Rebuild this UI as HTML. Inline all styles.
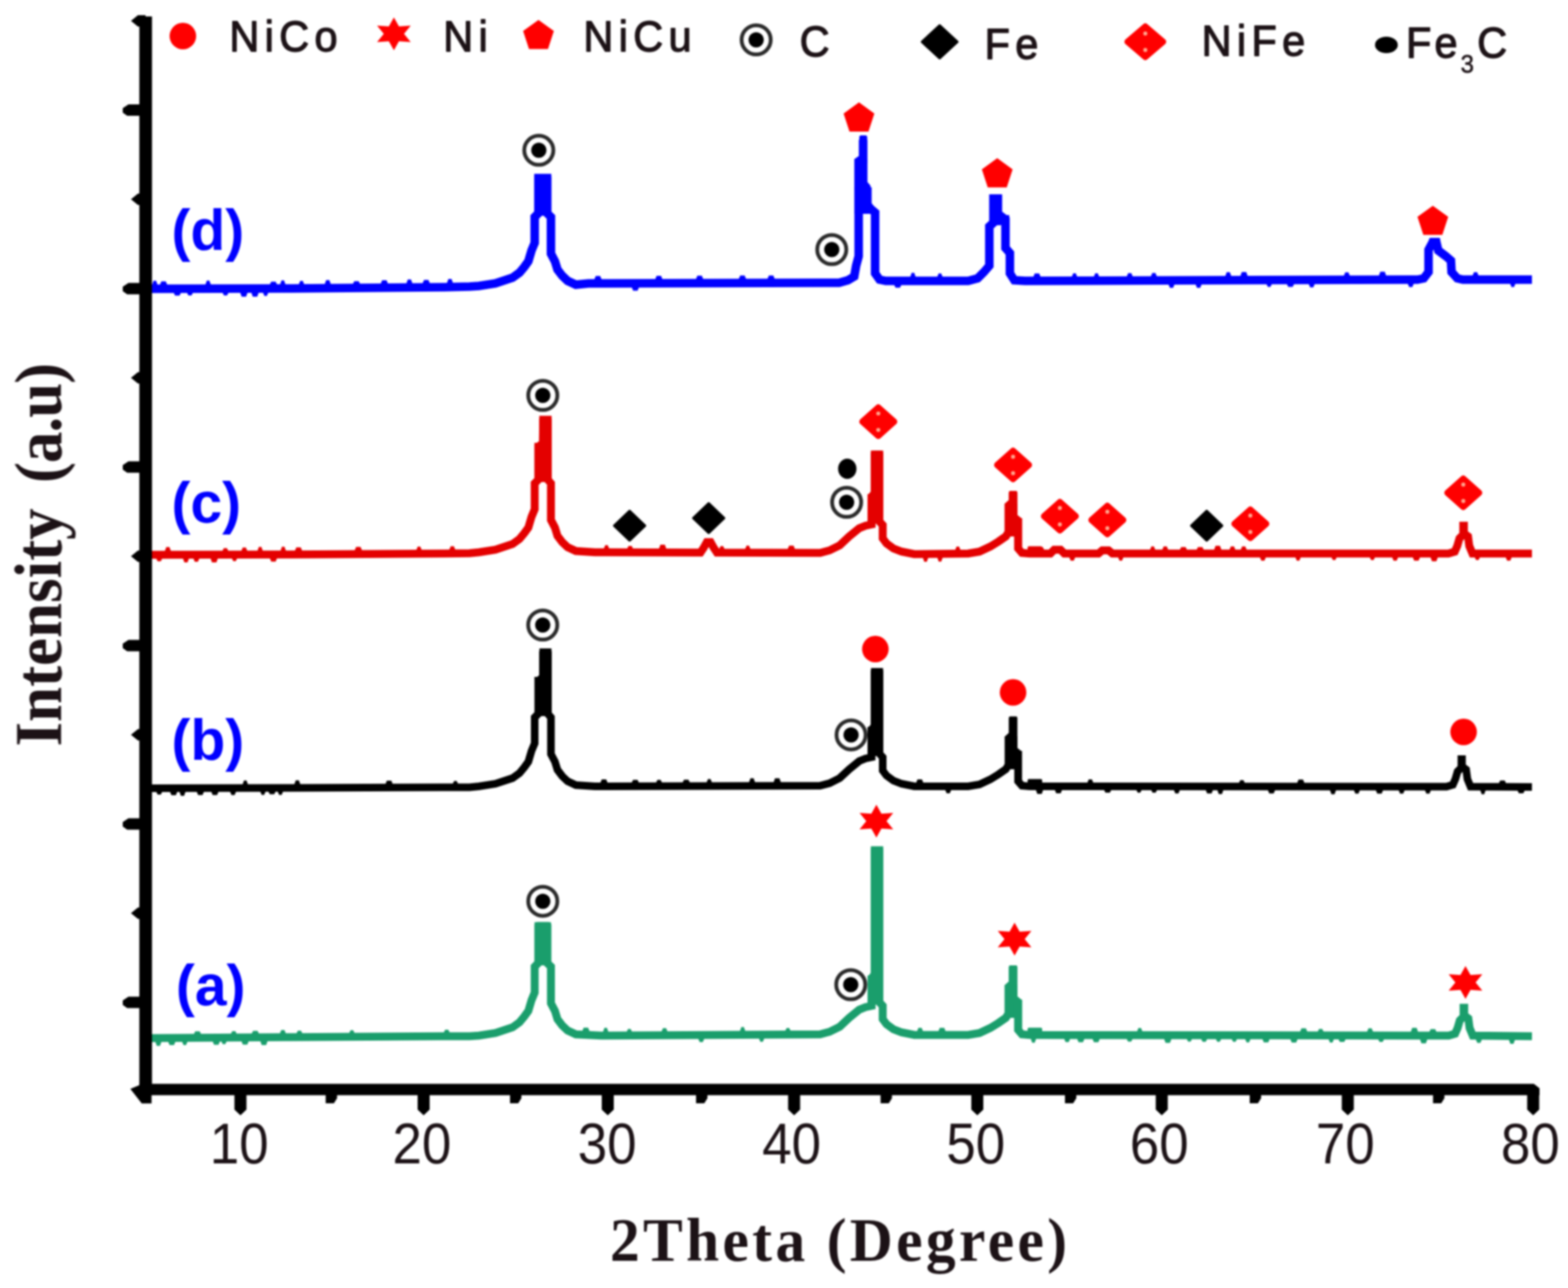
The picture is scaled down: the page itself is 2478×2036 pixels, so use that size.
<!DOCTYPE html>
<html lang="en"><head><meta charset="utf-8"><title>XRD patterns</title>
<style>
html,body{margin:0;padding:0;background:#fff;}
body{width:2478px;height:2036px;}
svg{display:block;}
#fig{filter:blur(1.5px);}
</style></head><body>
<svg width="2478" height="2036" viewBox="0 0 2478 2036">
<rect width="100%" height="100%" fill="#fff"/>
<g id="fig">
<g id="curves" stroke-linejoin="miter" stroke-miterlimit="1.5" stroke-linecap="butt">
<g fill="#1a9e6c" stroke="none">
<rect x="844.6" y="1457.6" width="26.8" height="68.4" rx="5"/>
<rect x="1376.0" y="1338.0" width="20.0" height="250.0" rx="5"/>
<rect x="1371.0" y="1542.0" width="9.0" height="50.0" rx="0"/>
<rect x="1587.7" y="1557.0" width="20.3" height="52.0" rx="0"/>
<rect x="1594.4" y="1526.0" width="13.3" height="34.0" rx="2"/>
<rect x="1602.9" y="1580.0" width="12.3" height="50.0" rx="0"/>
<rect x="1624.0" y="1624.5" width="23.0" height="11.5" rx="2"/>
<path d="M245.3,1646.2 L247.8,1653.2 L252.8,1653.2 L255.3,1646.2ZM265.5,1646.0 L268.0,1652.0 L275.0,1652.0 L277.5,1646.0ZM287.5,1645.9 L290.0,1651.9 L294.0,1651.9 L296.5,1645.9ZM306.1,1635.2 L308.6,1630.2 L315.6,1630.2 L318.1,1635.2ZM335.8,1645.5 L338.3,1651.5 L345.3,1651.5 L347.8,1645.5ZM349.5,1645.5 L352.0,1650.5 L356.0,1650.5 L358.5,1645.5ZM364.5,1634.9 L367.0,1629.9 L372.0,1629.9 L374.5,1634.9ZM381.3,1645.2 L383.8,1651.2 L390.8,1651.2 L393.3,1645.2ZM397.5,1634.6 L400.0,1629.6 L407.0,1629.6 L409.5,1634.6ZM411.1,1645.0 L413.6,1652.0 L420.6,1652.0 L423.1,1645.0ZM442.0,1634.3 L444.5,1628.3 L449.5,1628.3 L452.0,1634.3ZM468.2,1634.2 L470.7,1629.2 L475.7,1629.2 L478.2,1634.2ZM551.6,1633.6 L554.1,1628.6 L558.1,1628.6 L560.6,1633.6ZM701.0,1632.8 L703.5,1627.8 L708.5,1627.8 L711.0,1632.8ZM919.9,1630.5 L922.4,1624.5 L929.4,1624.5 L931.9,1630.5ZM952.7,1631.7 L955.2,1624.7 L959.2,1624.7 L961.7,1631.7ZM990.1,1631.5 L992.6,1626.5 L996.6,1626.5 L999.1,1631.5ZM1045.2,1631.2 L1047.7,1625.2 L1052.7,1625.2 L1055.2,1631.2ZM1103.2,1641.3 L1105.7,1647.3 L1110.7,1647.3 L1113.2,1641.3ZM1169.1,1630.5 L1171.6,1623.5 L1175.6,1623.5 L1178.1,1630.5ZM1199.1,1640.8 L1201.6,1646.8 L1205.6,1646.8 L1208.1,1640.8ZM1240.7,1630.0 L1243.2,1625.0 L1247.2,1625.0 L1249.7,1630.0ZM1449.0,1630.8 L1451.5,1624.8 L1456.5,1624.8 L1459.0,1630.8ZM1482.7,1630.8 L1485.2,1624.8 L1492.2,1624.8 L1494.7,1630.8ZM1628.7,1641.3 L1631.2,1648.3 L1635.2,1648.3 L1637.7,1641.3ZM1681.5,1641.3 L1684.0,1647.3 L1689.0,1647.3 L1691.5,1641.3ZM1702.0,1641.4 L1704.5,1647.4 L1711.5,1647.4 L1714.0,1641.4ZM1726.3,1641.4 L1728.8,1647.4 L1735.8,1647.4 L1738.3,1641.4ZM1780.2,1641.5 L1782.7,1646.5 L1787.7,1646.5 L1790.2,1641.5ZM1796.7,1631.0 L1799.2,1625.0 L1803.2,1625.0 L1805.7,1631.0ZM1839.5,1641.6 L1842.0,1648.6 L1849.0,1648.6 L1851.5,1641.6ZM1875.1,1641.6 L1877.6,1646.6 L1881.6,1646.6 L1884.1,1641.6ZM1898.0,1641.7 L1900.5,1646.7 L1905.5,1646.7 L1908.0,1641.7ZM1921.2,1641.7 L1923.7,1646.7 L1927.7,1646.7 L1930.2,1641.7ZM1946.2,1641.7 L1948.7,1646.7 L1952.7,1646.7 L1955.2,1641.7ZM1967.5,1641.8 L1970.0,1647.8 L1974.0,1647.8 L1976.5,1641.8ZM1994.8,1641.8 L1997.3,1647.8 L2004.3,1647.8 L2006.8,1641.8ZM2038.9,1641.9 L2041.4,1647.9 L2048.4,1647.9 L2050.9,1641.9ZM2054.3,1631.4 L2056.8,1625.4 L2063.8,1625.4 L2066.3,1631.4ZM2082.1,1631.4 L2084.6,1626.4 L2089.6,1626.4 L2092.1,1631.4ZM2099.3,1642.0 L2101.8,1648.0 L2105.8,1648.0 L2108.3,1642.0ZM2114.9,1642.0 L2117.4,1647.0 L2124.4,1647.0 L2126.9,1642.0ZM2160.2,1631.6 L2162.7,1625.6 L2167.7,1625.6 L2170.2,1631.6ZM2177.6,1642.1 L2180.1,1647.1 L2185.1,1647.1 L2187.6,1642.1ZM2229.3,1631.7 L2231.8,1624.7 L2238.8,1624.7 L2241.3,1631.7ZM2243.9,1642.2 L2246.4,1649.2 L2253.4,1649.2 L2255.9,1642.2ZM2258.5,1631.7 L2261.0,1626.7 L2268.0,1626.7 L2270.5,1631.7ZM2332.1,1642.4 L2334.6,1648.4 L2339.6,1648.4 L2342.1,1642.4ZM2384.4,1642.9 L2386.9,1649.9 L2391.9,1649.9 L2394.4,1642.9Z"/>
</g>
<path d="M238.0 1641.0L460.0 1639.5L700.0 1638.0L742.0 1638.0L757.0 1637.0L783.0 1633.0L810.0 1624.0L821.0 1616.0L828.5 1607.0L835.0 1598.0L840.0 1581.0L845.0 1569.0L845.0 1528.0L851.0 1522.0L851.0 1464.1L864.5 1464.1L864.5 1522.0L870.7 1528.0L870.7 1586.0L877.0 1598.0L881.0 1611.0L888.6 1621.0L897.0 1629.0L910.0 1635.0L950.0 1637.0L1296.0 1635.0L1311.0 1631.0L1327.0 1623.0L1342.0 1609.0L1358.0 1596.0L1368.0 1592.0L1377.5 1590.0L1377.5 1546.0L1382.5 1540.0L1382.5 1344.0L1389.5 1344.0L1389.5 1584.0L1395.0 1590.0L1395.0 1611.0L1401.0 1619.0L1412.0 1627.0L1425.0 1632.0L1445.0 1636.0L1530.0 1636.0L1548.0 1633.0L1565.0 1625.0L1578.0 1617.0L1589.5 1609.0L1594.0 1602.0L1594.0 1560.0L1600.5 1554.0L1600.5 1529.0L1601.5 1531.0L1601.5 1578.0L1609.0 1584.0L1609.0 1628.0L1615.0 1635.0L1627.0 1636.0L2289.5 1637.0L2299.5 1634.0L2303.5 1625.0L2307.0 1613.0L2313.0 1607.0L2313.0 1593.0L2314.0 1593.0L2314.0 1605.0L2320.5 1610.0L2322.5 1625.0L2327.5 1637.0L2421.0 1638.0" fill="none" stroke="#1a9e6c" stroke-width="12.5"/>
<g fill="#000000" stroke="none">
<rect x="844.6" y="1070.0" width="27.4" height="62.0" rx="0"/>
<rect x="852.0" y="1028.0" width="20.0" height="46.0" rx="3"/>
<rect x="1376.0" y="1056.0" width="20.0" height="139.0" rx="5"/>
<rect x="1371.0" y="1149.0" width="9.0" height="50.0" rx="0"/>
<rect x="1587.7" y="1164.0" width="20.3" height="52.0" rx="0"/>
<rect x="1594.4" y="1132.4" width="13.3" height="34.6" rx="2"/>
<rect x="1602.9" y="1187.0" width="12.3" height="50.0" rx="0"/>
<rect x="1624.0" y="1231.5" width="23.0" height="11.5" rx="2"/>
<path d="M246.6,1251.0 L249.1,1256.0 L254.1,1256.0 L256.6,1251.0ZM268.4,1250.9 L270.9,1256.9 L277.9,1256.9 L280.4,1250.9ZM283.4,1250.9 L285.9,1257.9 L290.9,1257.9 L293.4,1250.9ZM310.6,1250.8 L313.1,1256.8 L320.1,1256.8 L322.6,1250.8ZM333.6,1250.8 L336.1,1256.8 L343.1,1256.8 L345.6,1250.8ZM363.3,1250.7 L365.8,1256.7 L370.8,1256.7 L373.3,1250.7ZM383.1,1240.7 L385.6,1233.7 L389.6,1233.7 L392.1,1240.7ZM411.0,1250.6 L413.5,1256.6 L417.5,1256.6 L420.0,1250.6ZM423.9,1250.6 L426.4,1255.6 L433.4,1255.6 L435.9,1250.6ZM438.6,1250.5 L441.1,1256.5 L445.1,1256.5 L447.6,1250.5ZM464.9,1240.5 L467.4,1233.5 L472.4,1233.5 L474.9,1240.5ZM608.9,1239.9 L611.4,1233.9 L618.4,1233.9 L620.9,1239.9ZM715.2,1239.5 L717.7,1234.5 L721.7,1234.5 L724.2,1239.5ZM948.5,1238.0 L951.0,1232.0 L958.0,1232.0 L960.5,1238.0ZM998.0,1237.8 L1000.5,1232.8 L1007.5,1232.8 L1010.0,1237.8ZM1036.5,1237.7 L1039.0,1232.7 L1044.0,1232.7 L1046.5,1237.7ZM1078.5,1237.6 L1081.0,1232.6 L1088.0,1232.6 L1090.5,1237.6ZM1116.4,1237.5 L1118.9,1231.5 L1122.9,1231.5 L1125.4,1237.5ZM1183.5,1237.3 L1186.0,1230.3 L1191.0,1230.3 L1193.5,1237.3ZM1222.3,1237.2 L1224.8,1230.2 L1231.8,1230.2 L1234.3,1237.2ZM1447.5,1238.0 L1450.0,1232.0 L1457.0,1232.0 L1459.5,1238.0ZM1493.5,1248.0 L1496.0,1254.0 L1501.0,1254.0 L1503.5,1248.0ZM1636.8,1248.0 L1639.3,1255.0 L1646.3,1255.0 L1648.8,1248.0ZM1666.7,1248.0 L1669.2,1254.0 L1676.2,1254.0 L1678.7,1248.0ZM1718.1,1238.1 L1720.6,1232.1 L1725.6,1232.1 L1728.1,1238.1ZM1744.5,1248.1 L1747.0,1253.1 L1754.0,1253.1 L1756.5,1248.1ZM1795.5,1248.1 L1798.0,1253.1 L1802.0,1253.1 L1804.5,1248.1ZM1818.9,1248.1 L1821.4,1253.1 L1826.4,1253.1 L1828.9,1248.1ZM1854.9,1248.2 L1857.4,1254.2 L1862.4,1254.2 L1864.9,1248.2ZM1905.2,1248.2 L1907.7,1254.2 L1914.7,1254.2 L1917.2,1248.2ZM1923.6,1248.2 L1926.1,1255.2 L1931.1,1255.2 L1933.6,1248.2ZM1957.6,1238.3 L1960.1,1233.3 L1965.1,1233.3 L1967.6,1238.3ZM2003.4,1248.3 L2005.9,1254.3 L2012.9,1254.3 L2015.4,1248.3ZM2049.7,1238.3 L2052.2,1232.3 L2059.2,1232.3 L2061.7,1238.3ZM2101.6,1248.4 L2104.1,1255.4 L2109.1,1255.4 L2111.6,1248.4ZM2139.4,1248.4 L2141.9,1254.4 L2146.9,1254.4 L2149.4,1248.4ZM2174.0,1248.4 L2176.5,1254.4 L2183.5,1254.4 L2186.0,1248.4ZM2210.1,1248.4 L2212.6,1254.4 L2217.6,1254.4 L2220.1,1248.4ZM2251.6,1248.5 L2254.1,1254.5 L2259.1,1254.5 L2261.6,1248.5ZM2339.1,1248.6 L2341.6,1255.6 L2345.6,1255.6 L2348.1,1248.6ZM2368.4,1238.8 L2370.9,1233.8 L2377.9,1233.8 L2380.4,1238.8ZM2397.9,1248.9 L2400.4,1253.9 L2407.4,1253.9 L2409.9,1248.9Z"/>
</g>
<path d="M238.0 1246.0L460.0 1245.5L700.0 1244.5L742.0 1244.5L757.0 1243.0L783.0 1239.0L810.0 1230.0L821.0 1222.0L828.5 1213.0L835.0 1204.0L840.0 1187.0L845.0 1175.0L845.0 1134.0L851.0 1128.0L851.0 1076.0L858.0 1070.0L858.5 1031.0L865.5 1031.0L865.5 1128.0L870.7 1134.0L870.7 1192.0L877.0 1204.0L881.0 1217.0L888.6 1227.0L897.0 1235.0L910.0 1241.0L940.0 1243.0L1296.0 1242.0L1311.0 1238.0L1327.0 1230.0L1342.0 1216.0L1358.0 1203.0L1368.0 1199.0L1377.5 1197.0L1377.5 1153.0L1382.5 1147.0L1382.5 1062.0L1389.5 1062.0L1389.5 1191.0L1395.0 1197.0L1395.0 1218.0L1401.0 1226.0L1412.0 1234.0L1425.0 1239.0L1445.0 1243.0L1530.0 1243.0L1548.0 1240.0L1565.0 1232.0L1578.0 1224.0L1589.5 1216.0L1594.0 1209.0L1594.0 1167.0L1600.5 1161.0L1600.5 1135.4L1601.5 1137.4L1601.5 1185.0L1609.0 1191.0L1609.0 1235.0L1615.0 1242.0L1627.0 1243.0L2286.0 1243.5L2296.0 1240.5L2300.0 1231.5L2303.5 1219.5L2309.5 1213.5L2309.5 1200.0L2310.5 1200.0L2310.5 1211.5L2317.0 1216.5L2319.0 1231.5L2324.0 1243.5L2421.0 1244.0" fill="none" stroke="#000000" stroke-width="12"/>
<g fill="#e40000" stroke="none">
<rect x="844.6" y="700.0" width="27.4" height="62.0" rx="0"/>
<rect x="852.0" y="660.6" width="20.0" height="43.4" rx="3"/>
<rect x="1376.0" y="712.4" width="20.0" height="114.6" rx="5"/>
<rect x="1371.0" y="781.0" width="9.0" height="50.0" rx="0"/>
<rect x="1587.7" y="796.0" width="20.3" height="52.0" rx="0"/>
<rect x="1594.4" y="776.0" width="13.3" height="23.0" rx="2"/>
<rect x="1602.9" y="819.0" width="12.3" height="50.0" rx="0"/>
<rect x="1624.0" y="863.5" width="23.0" height="11.5" rx="2"/>
<path d="M246.6,882.2 L249.1,887.2 L254.1,887.2 L256.6,882.2ZM260.3,871.7 L262.8,864.7 L267.8,864.7 L270.3,871.7ZM288.9,882.1 L291.4,889.1 L296.4,889.1 L298.9,882.1ZM305.3,882.1 L307.8,888.1 L312.8,888.1 L315.3,882.1ZM332.5,882.0 L335.0,889.0 L342.0,889.0 L344.5,882.0ZM351.2,871.5 L353.7,866.5 L358.7,866.5 L361.2,871.5ZM366.1,882.0 L368.6,887.0 L372.6,887.0 L375.1,882.0ZM381.1,871.4 L383.6,865.4 L388.6,865.4 L391.1,871.4ZM406.6,871.4 L409.1,864.4 L413.1,864.4 L415.6,871.4ZM426.1,881.8 L428.6,887.8 L435.6,887.8 L438.1,881.8ZM443.1,871.3 L445.6,864.3 L449.6,864.3 L452.1,871.3ZM465.8,871.2 L468.3,865.2 L475.3,865.2 L477.8,871.2ZM560.3,870.6 L562.8,864.6 L569.8,864.6 L572.3,870.6ZM657.7,870.0 L660.2,864.0 L664.2,864.0 L666.7,870.0ZM709.8,869.6 L712.3,863.6 L717.3,863.6 L719.8,869.6ZM954.0,867.8 L956.5,861.8 L960.5,861.8 L963.0,867.8ZM990.8,867.9 L993.3,862.9 L998.3,862.9 L1000.8,867.9ZM1041.2,868.1 L1043.7,861.1 L1050.7,861.1 L1053.2,868.1ZM1136.3,868.3 L1138.8,863.3 L1142.8,863.3 L1145.3,868.3ZM1177.3,868.4 L1179.8,862.4 L1183.8,862.4 L1186.3,868.4ZM1244.6,868.6 L1247.1,862.6 L1254.1,862.6 L1256.6,868.6ZM1458.2,881.0 L1460.7,888.0 L1464.7,888.0 L1467.2,881.0ZM1481.0,880.8 L1483.5,887.8 L1487.5,887.8 L1490.0,880.8ZM1509.2,869.9 L1511.7,863.9 L1515.7,863.9 L1518.2,869.9ZM1641.5,869.8 L1644.0,864.8 L1648.0,864.8 L1650.5,869.8ZM1689.5,880.2 L1692.0,886.2 L1697.0,886.2 L1699.5,880.2ZM1766.7,880.2 L1769.2,886.2 L1773.2,886.2 L1775.7,880.2ZM1817.1,869.8 L1819.6,863.8 L1823.6,863.8 L1826.1,869.8ZM1836.5,869.8 L1839.0,863.8 L1844.0,863.8 L1846.5,869.8ZM1864.2,869.8 L1866.7,864.8 L1873.7,864.8 L1876.2,869.8ZM1890.7,869.8 L1893.2,864.8 L1900.2,864.8 L1902.7,869.8ZM1918.5,869.8 L1921.0,862.8 L1928.0,862.8 L1930.5,869.8ZM1942.7,869.8 L1945.2,863.8 L1950.2,863.8 L1952.7,869.8ZM1960.5,869.8 L1963.0,863.8 L1968.0,863.8 L1970.5,869.8ZM1990.8,880.2 L1993.3,886.2 L1998.3,886.2 L2000.8,880.2ZM2046.9,880.2 L2049.4,886.2 L2053.4,886.2 L2055.9,880.2ZM2103.8,880.2 L2106.3,885.2 L2110.3,885.2 L2112.8,880.2ZM2164.3,880.2 L2166.8,885.2 L2170.8,885.2 L2173.3,880.2ZM2199.8,880.2 L2202.3,886.2 L2207.3,886.2 L2209.8,880.2ZM2232.4,880.2 L2234.9,886.2 L2241.9,886.2 L2244.4,880.2ZM2260.5,880.2 L2263.0,887.2 L2270.0,887.2 L2272.5,880.2ZM2330.2,880.2 L2332.7,885.2 L2336.7,885.2 L2339.2,880.2ZM2379.3,880.2 L2381.8,886.2 L2386.8,886.2 L2389.3,880.2Z"/>
</g>
<path d="M238.0 877.0L460.0 876.5L700.0 875.0L742.0 874.5L757.0 873.0L783.0 869.0L810.0 860.0L821.0 852.0L828.5 843.0L835.0 834.0L840.0 817.0L845.0 805.0L845.0 764.0L851.0 758.0L851.0 706.0L858.0 700.0L858.5 663.6L865.5 663.6L865.5 758.0L870.7 764.0L870.7 822.0L877.0 834.0L881.0 847.0L888.6 857.0L897.0 865.0L910.0 871.0L940.0 873.0L1100.0 873.5L1107.0 873.5L1112.0 866.0L1117.0 857.0L1123.0 857.0L1128.0 866.0L1133.0 873.5L1296.0 874.0L1311.0 870.0L1327.0 862.0L1342.0 848.0L1358.0 835.0L1368.0 831.0L1377.5 829.0L1377.5 785.0L1382.5 779.0L1382.5 718.4L1389.5 718.4L1389.5 824.0L1395.0 830.0L1395.0 851.0L1401.0 859.0L1412.0 867.0L1425.0 872.0L1445.0 876.0L1530.0 875.0L1548.0 872.0L1565.0 864.0L1578.0 856.0L1589.5 848.0L1594.0 841.0L1594.0 799.0L1600.5 793.0L1600.5 779.0L1601.5 781.0L1601.5 817.0L1609.0 823.0L1609.0 867.0L1615.0 874.0L1627.0 875.0L1660.0 875.0L1666.0 869.0L1676.0 869.0L1682.0 875.0L1736.0 875.0L1742.0 870.0L1752.0 870.0L1758.0 875.0L2289.0 875.0L2299.0 872.0L2303.0 863.0L2306.5 851.0L2312.5 845.0L2312.5 831.0L2313.5 831.0L2313.5 843.0L2320.0 848.0L2322.0 863.0L2327.0 875.0L2421.0 875.0" fill="none" stroke="#e40000" stroke-width="12.5"/>
<g fill="#0000ff" stroke="none">
<rect x="844.6" y="275.0" width="26.8" height="66.0" rx="5"/>
<rect x="1350.5" y="251.0" width="20.0" height="49.0" rx="0"/>
<rect x="1350.5" y="296.0" width="27.0" height="42.0" rx="0"/>
<rect x="1358.0" y="214.0" width="12.5" height="46.0" rx="3"/>
<rect x="1564.0" y="307.6" width="19.0" height="48.4" rx="2"/>
<rect x="1583.0" y="340.0" width="12.0" height="10.0" rx="0"/>
<rect x="2258.4" y="376.0" width="17.6" height="16.0" rx="3"/>
<path d="M240.2,450.7 L242.7,443.7 L246.7,443.7 L249.2,450.7ZM252.5,450.7 L255.0,444.7 L262.0,444.7 L264.5,450.7ZM274.2,462.2 L276.7,467.2 L283.7,467.2 L286.2,462.2ZM295.2,462.1 L297.7,467.1 L302.7,467.1 L305.2,462.1ZM324.4,450.5 L326.9,443.5 L330.9,443.5 L333.4,450.5ZM351.4,462.0 L353.9,467.0 L358.9,467.0 L361.4,462.0ZM379.4,461.9 L381.9,468.9 L388.9,468.9 L391.4,461.9ZM397.0,461.9 L399.5,468.9 L406.5,468.9 L409.0,461.9ZM415.3,461.8 L417.8,467.8 L421.8,467.8 L424.3,461.8ZM426.1,450.3 L428.6,445.3 L435.6,445.3 L438.1,450.3ZM442.4,450.3 L444.9,443.3 L448.9,443.3 L451.4,450.3ZM472.0,450.1 L474.5,444.1 L478.5,444.1 L481.0,450.1ZM513.0,449.8 L515.5,442.8 L520.5,442.8 L523.0,449.8ZM557.4,449.4 L559.9,444.4 L566.9,444.4 L569.4,449.4ZM601.4,449.0 L603.9,443.0 L610.9,443.0 L613.4,449.0ZM642.0,448.7 L644.5,441.7 L649.5,441.7 L652.0,448.7ZM667.6,448.5 L670.1,442.5 L677.1,442.5 L679.6,448.5ZM706.1,448.0 L708.6,441.0 L713.6,441.0 L716.1,448.0ZM939.0,442.2 L941.5,436.2 L948.5,436.2 L951.0,442.2ZM998.1,453.5 L1000.6,459.5 L1007.6,459.5 L1010.1,453.5ZM1035.2,441.9 L1037.7,435.9 L1044.7,435.9 L1047.2,441.9ZM1099.6,441.8 L1102.1,435.8 L1109.1,435.8 L1111.6,441.8ZM1167.3,441.6 L1169.8,435.6 L1176.8,435.6 L1179.3,441.6ZM1212.6,441.5 L1215.1,435.5 L1222.1,435.5 L1224.6,441.5ZM1412.8,449.8 L1415.3,454.8 L1422.3,454.8 L1424.8,449.8ZM1438.3,438.2 L1440.8,431.2 L1444.8,431.2 L1447.3,438.2ZM1480.9,438.2 L1483.4,432.2 L1487.4,432.2 L1489.9,438.2ZM1632.8,438.2 L1635.3,432.2 L1642.3,432.2 L1644.8,438.2ZM1693.6,438.0 L1696.1,432.0 L1700.1,432.0 L1702.6,438.0ZM1728.4,437.9 L1730.9,431.9 L1734.9,431.9 L1737.4,437.9ZM1780.4,437.7 L1782.9,431.7 L1787.9,431.7 L1790.4,437.7ZM1818.5,437.6 L1821.0,431.6 L1826.0,431.6 L1828.5,437.6ZM1846.4,449.0 L1848.9,455.0 L1853.9,455.0 L1856.4,449.0ZM1889.2,448.9 L1891.7,454.9 L1896.7,454.9 L1899.2,448.9ZM1936.1,437.2 L1938.6,430.2 L1943.6,430.2 L1946.1,437.2ZM1960.0,437.1 L1962.5,430.1 L1969.5,430.1 L1972.0,437.1ZM2001.2,448.5 L2003.7,453.5 L2007.7,453.5 L2010.2,448.5ZM2033.4,448.4 L2035.9,453.4 L2042.9,453.4 L2045.4,448.4ZM2068.0,448.3 L2070.5,454.3 L2075.5,454.3 L2078.0,448.3ZM2123.5,436.6 L2126.0,430.6 L2131.0,430.6 L2133.5,436.6ZM2178.9,436.4 L2181.4,429.4 L2188.4,429.4 L2190.9,436.4ZM2224.5,447.8 L2227.0,453.8 L2232.0,453.8 L2234.5,447.8ZM2326.9,436.2 L2329.4,430.2 L2334.4,430.2 L2336.9,436.2ZM2386.2,447.8 L2388.7,453.8 L2392.7,453.8 L2395.2,447.8Z"/>
</g>
<path d="M238.0 456.5L460.0 456.0L700.0 454.0L742.0 453.0L757.0 452.0L783.0 448.0L810.0 439.0L821.0 431.0L828.5 422.0L835.0 413.0L840.0 396.0L845.0 384.0L845.0 343.0L851.0 337.0L851.0 281.5L864.5 281.5L864.5 337.0L870.7 343.0L870.7 401.0L877.0 413.0L881.0 426.0L888.6 436.0L897.0 444.0L910.0 450.0L930.0 448.0L1300.0 447.0L1326.0 447.0L1340.0 443.0L1350.0 437.0L1353.0 420.0L1357.0 405.0L1357.0 255.0L1364.0 250.0L1364.0 221.0L1364.0 290.0L1369.0 296.0L1369.0 322.0L1376.0 330.0L1383.0 336.0L1383.0 432.0L1390.0 442.0L1400.0 444.0L1530.0 444.0L1545.0 440.0L1555.0 430.0L1563.5 420.0L1563.5 358.0L1570.0 352.0L1570.0 314.0L1577.0 314.0L1577.0 338.0L1589.0 347.0L1589.0 392.0L1596.0 400.0L1596.0 432.0L1603.0 443.0L1620.0 444.0L2240.0 442.0L2250.0 440.0L2257.6 430.0L2257.6 395.0L2264.0 383.0L2270.0 383.0L2273.0 396.0L2285.0 405.0L2293.0 412.0L2294.0 430.0L2303.0 440.0L2312.0 442.0L2421.0 442.0" fill="none" stroke="#0000ff" stroke-width="13.5"/>
</g>
<g id="axes" fill="#000">
<rect x="220.2" y="26" width="20" height="1705.2"/>
<path d="M220.5,1713.2 H2424 L2433,1720.2 V1731.2 H220.5 Z"/>
<path d="M230,24.0 H218 L207,33.0 L218,42.0 H230 Z"/>
<path d="M230,165.1 H203 L194,171.1 V178.1 L201,183.1 H230 Z"/>
<path d="M230,306.1 H218 L207,315.1 L218,324.1 H230 Z"/>
<path d="M230,447.2 H203 L194,453.2 V460.2 L201,465.2 H230 Z"/>
<path d="M230,588.2 H218 L207,597.2 L218,606.2 H230 Z"/>
<path d="M230,729.2 H203 L194,735.2 V742.2 L201,747.2 H230 Z"/>
<path d="M230,870.3 H218 L207,879.3 L218,888.3 H230 Z"/>
<path d="M230,1011.4 H203 L194,1017.4 V1024.4 L201,1029.4 H230 Z"/>
<path d="M230,1152.4 H218 L207,1161.4 L218,1170.4 H230 Z"/>
<path d="M230,1293.5 H203 L194,1299.5 V1306.5 L201,1311.5 H230 Z"/>
<path d="M230,1434.5 H218 L207,1443.5 L218,1452.5 H230 Z"/>
<path d="M230,1575.6 H203 L194,1581.6 V1588.6 L201,1593.6 H230 Z"/>
<path d="M230,1711.2 L206,1721.2 L224,1744.2 H239.5 V1722.2 Z"/>
<path d="M370.5,1722.2 V1754 L380,1763 L389.5,1754 V1722.2 Z"/>
<path d="M660.0,1722.2 V1754 L669.5,1763 L679.0,1754 V1722.2 Z"/>
<path d="M951.0,1722.2 V1754 L960.5,1763 L970.0,1754 V1722.2 Z"/>
<path d="M1245.5,1722.2 V1754 L1255,1763 L1264.5,1754 V1722.2 Z"/>
<path d="M1535.0,1722.2 V1754 L1544.5,1763 L1554.0,1754 V1722.2 Z"/>
<path d="M1826.5,1722.2 V1754 L1836,1763 L1845.5,1754 V1722.2 Z"/>
<path d="M2120.5,1722.2 V1754 L2130,1763 L2139.5,1754 V1722.2 Z"/>
<path d="M2413.5,1722.2 V1754 L2423,1763 L2432.5,1754 V1722.2 Z"/>
<path d="M514.7,1722.2 V1744 H527.7 L532.7,1736 V1722.2 Z"/>
<path d="M806,1722.2 V1744 H819 L824,1736 V1722.2 Z"/>
<path d="M1100,1722.2 V1744 H1113 L1118,1736 V1722.2 Z"/>
<path d="M1391.6,1722.2 V1744 H1404.6 L1409.6,1736 V1722.2 Z"/>
<path d="M1683,1722.2 V1744 H1696 L1701,1736 V1722.2 Z"/>
<path d="M1975,1722.2 V1744 H1988 L1993,1736 V1722.2 Z"/>
<path d="M2264.7,1722.2 V1744 H2277.7 L2282.7,1736 V1722.2 Z"/>
</g>
<g id="markers">
<g><circle cx="851.5" cy="237.6" r="23" fill="#fff" stroke="#2a2a2a" stroke-width="6"/><circle cx="851.5" cy="237.6" r="12" fill="#000"/></g>
<g><circle cx="1314.5" cy="394.5" r="23" fill="#fff" stroke="#2a2a2a" stroke-width="6"/><circle cx="1314.5" cy="394.5" r="12" fill="#000"/></g>
<g><circle cx="857.8" cy="625" r="23" fill="#fff" stroke="#2a2a2a" stroke-width="6"/><circle cx="857.8" cy="625" r="12" fill="#000"/></g>
<g><circle cx="1338" cy="794" r="23" fill="#fff" stroke="#2a2a2a" stroke-width="6"/><circle cx="1338" cy="794" r="12" fill="#000"/></g>
<g><circle cx="857.7" cy="988" r="23" fill="#fff" stroke="#2a2a2a" stroke-width="6"/><circle cx="857.7" cy="988" r="12" fill="#000"/></g>
<g><circle cx="1345" cy="1161.7" r="23" fill="#fff" stroke="#2a2a2a" stroke-width="6"/><circle cx="1345" cy="1161.7" r="12" fill="#000"/></g>
<g><circle cx="857.8" cy="1424.7" r="23" fill="#fff" stroke="#2a2a2a" stroke-width="6"/><circle cx="857.8" cy="1424.7" r="12" fill="#000"/></g>
<g><circle cx="1344.5" cy="1556.5" r="23" fill="#fff" stroke="#2a2a2a" stroke-width="6"/><circle cx="1344.5" cy="1556.5" r="12" fill="#000"/></g>
<g><circle cx="1195" cy="63" r="23" fill="#fff" stroke="#2a2a2a" stroke-width="6"/><circle cx="1195" cy="63" r="12" fill="#000"/></g>
<polygon points="1357.5,161.8 1381.8,179.4 1372.5,207.9 1342.5,207.9 1333.2,179.4" fill="#ff0000"/>
<polygon points="1576.0,250.1 1600.3,267.7 1591.0,296.2 1561.0,296.2 1551.7,267.7" fill="#ff0000"/>
<polygon points="2264.4,325.2 2288.7,342.8 2279.4,371.3 2249.4,371.3 2240.1,342.8" fill="#ff0000"/>
<polygon points="851.0,31.5 875.3,49.1 866.0,77.6 836.0,77.6 826.7,49.1" fill="#ff0000"/>
<g><polygon points="1363,666.6 1388,644.3000000000001 1413,666.6 1388,688.9" fill="#ff0000" stroke="#ff0000" stroke-width="10" stroke-linejoin="round"/><circle cx="1388" cy="653.6" r="3.2" fill="#ffa890"/><circle cx="1388" cy="679.6" r="3.2" fill="#ffa890"/></g>
<g><polygon points="1576,735 1601,712.7 1626,735 1601,757.3" fill="#ff0000" stroke="#ff0000" stroke-width="10" stroke-linejoin="round"/><circle cx="1601" cy="722" r="3.2" fill="#ffa890"/><circle cx="1601" cy="748" r="3.2" fill="#ffa890"/></g>
<g><polygon points="1650,816 1675,793.7 1700,816 1675,838.3" fill="#ff0000" stroke="#ff0000" stroke-width="10" stroke-linejoin="round"/><circle cx="1675" cy="803" r="3.2" fill="#ffa890"/><circle cx="1675" cy="829" r="3.2" fill="#ffa890"/></g>
<g><polygon points="1725,822 1750,799.7 1775,822 1750,844.3" fill="#ff0000" stroke="#ff0000" stroke-width="10" stroke-linejoin="round"/><circle cx="1750" cy="809" r="3.2" fill="#ffa890"/><circle cx="1750" cy="835" r="3.2" fill="#ffa890"/></g>
<g><polygon points="1951,828 1976,805.7 2001,828 1976,850.3" fill="#ff0000" stroke="#ff0000" stroke-width="10" stroke-linejoin="round"/><circle cx="1976" cy="815" r="3.2" fill="#ffa890"/><circle cx="1976" cy="841" r="3.2" fill="#ffa890"/></g>
<g><polygon points="2287.5,779 2312.5,756.7 2337.5,779 2312.5,801.3" fill="#ff0000" stroke="#ff0000" stroke-width="10" stroke-linejoin="round"/><circle cx="2312.5" cy="766" r="3.2" fill="#ffa890"/><circle cx="2312.5" cy="792" r="3.2" fill="#ffa890"/></g>
<g><polygon points="1782,66 1810,42 1838,66 1810,90" fill="#ff0000" stroke="#ff0000" stroke-width="10" stroke-linejoin="round"/><circle cx="1810" cy="53" r="3.2" fill="#ffa890"/><circle cx="1810" cy="79" r="3.2" fill="#ffa890"/></g>
<polygon points="971,831 995,808 1019,831 995,854" fill="#000" stroke="#000" stroke-width="4.5" stroke-linejoin="round"/>
<polygon points="1096,819 1120,796 1144,819 1120,842" fill="#000" stroke="#000" stroke-width="4.5" stroke-linejoin="round"/>
<polygon points="1883,831 1907,808 1931,831 1907,854" fill="#000" stroke="#000" stroke-width="4.5" stroke-linejoin="round"/>
<polygon points="1457.5,66.2 1485,40.7 1512.5,66.2 1485,91.7" fill="#000" stroke="#000" stroke-width="4.5" stroke-linejoin="round"/>
<ellipse cx="1339" cy="741" rx="14.5" ry="16" fill="#000"/>
<ellipse cx="2191" cy="71" rx="18" ry="13" fill="#000"/>
<ellipse cx="1383.4" cy="1026" rx="21" ry="21" fill="#ff0000"/>
<ellipse cx="1601" cy="1094.5" rx="21" ry="21" fill="#ff0000"/>
<ellipse cx="2313" cy="1157" rx="21" ry="21" fill="#ff0000"/>
<ellipse cx="289" cy="57" rx="21" ry="21" fill="#ff0000"/>
<polygon points="1385.0,1272.0 1393.0,1286.2 1411.6,1285.0 1401.0,1298.0 1411.6,1311.0 1393.0,1309.8 1385.0,1324.0 1377.0,1309.8 1358.4,1311.0 1369.0,1298.0 1358.4,1285.0 1377.0,1286.2" fill="#ff0000"/>
<polygon points="1603.4,1458.5 1611.4,1472.7 1630.0,1471.5 1619.4,1484.5 1630.0,1497.5 1611.4,1496.3 1603.4,1510.5 1595.4,1496.3 1576.8,1497.5 1587.4,1484.5 1576.8,1471.5 1595.4,1472.7" fill="#ff0000"/>
<polygon points="2316.0,1527.0 2324.0,1541.2 2342.6,1540.0 2332.0,1553.0 2342.6,1566.0 2324.0,1564.8 2316.0,1579.0 2308.0,1564.8 2289.4,1566.0 2300.0,1553.0 2289.4,1540.0 2308.0,1541.2" fill="#ff0000"/>
<polygon points="622.5,27.5 630.5,41.7 649.1,40.5 638.5,53.5 649.1,66.5 630.5,65.3 622.5,79.5 614.5,65.3 595.9,66.5 606.5,53.5 595.9,40.5 614.5,41.7" fill="#ff0000"/>
</g>
<g id="labels" font-family="'Liberation Sans', Arial, sans-serif">
<g fill="#0000ff" font-weight="bold" font-size="90px">
<text x="271" y="394.5">(d)</text>
<text x="271" y="826">(c)</text>
<text x="271" y="1201">(b)</text>
<text x="278" y="1589">(a)</text>
</g>
<g fill="#1c1216" font-size="91px" text-anchor="middle">
<text transform="translate(378.0,1839) scale(0.92,1)">10</text>
<text transform="translate(666.7,1839) scale(0.92,1)">20</text>
<text transform="translate(959.5,1839) scale(0.92,1)">30</text>
<text transform="translate(1251.0,1839) scale(0.92,1)">40</text>
<text transform="translate(1542.0,1839) scale(0.92,1)">50</text>
<text transform="translate(1832.0,1839) scale(0.92,1)">60</text>
<text transform="translate(2126.0,1839) scale(0.92,1)">70</text>
<text transform="translate(2418.5,1839) scale(0.92,1)">80</text>
</g>
<g fill="#1c1216" stroke="#1c1216" stroke-width="1.9" stroke-linejoin="round" font-size="69px" letter-spacing="8.9">
<text transform="translate(362.5,81) scale(0.95,1)">NiCo</text>
<text transform="translate(700.5,81) scale(0.95,1)">Ni</text>
<text transform="translate(922,81) scale(0.95,1)">NiCu</text>
<text transform="translate(1263.7,88.5) scale(0.95,1)">C</text>
<text transform="translate(1556,93) scale(0.95,1)">Fe</text>
<text transform="translate(1899,88) scale(0.95,1)">NiFe</text>
<text transform="translate(2222,91) scale(0.95,1)" letter-spacing="5.2">Fe<tspan font-size="40px" dy="24" stroke-width="0.8">3</tspan><tspan dy="-24">C</tspan></text>
</g>
</g>
<g id="titles" font-family="'Liberation Serif', 'Times New Roman', serif" font-weight="bold" fill="#1c1216">
<text transform="translate(964,1993) scale(1,1.04)" font-size="94px" letter-spacing="5.3">2Theta (Degree)</text>
<text transform="translate(96.5,1180) rotate(-90) scale(0.94,1)" font-size="106px" word-spacing="16">Intensity <tspan letter-spacing="-1.7">(a.u)</tspan></text>
</g>
</g>
</svg>
</body></html>
